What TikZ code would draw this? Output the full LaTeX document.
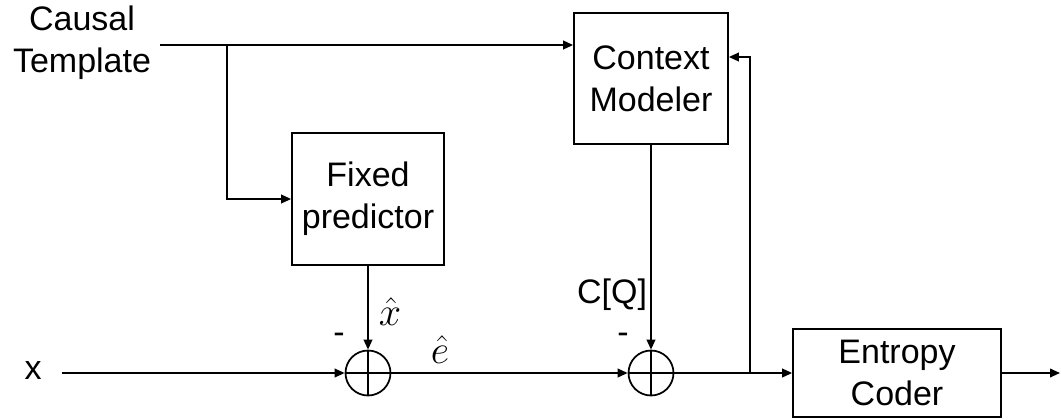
\documentclass[tikz,border=0pt]{standalone}
\usepackage{fontspec}
\setmainfont{Liberation Sans}
\usetikzlibrary{arrows.meta}
\tikzset{
  blk/.style={draw,line width=1.3pt,align=center,inner sep=0pt,font=\fontsize{25.5}{31.5}\selectfont},
  lbl/.style={font=\fontsize{25.5}{31.5}\selectfont,inner sep=0pt},
  mlbl/.style={font=\fontsize{20}{20}\selectfont,inner sep=0pt,scale=1.45},
  sumnode/.style={circle,draw,line width=1.3pt,minimum size=33.75pt,inner sep=0pt,
    path picture={\draw[line width=1.3pt] (path picture bounding box.north)--(path picture bounding box.south)
      (path picture bounding box.west)--(path picture bounding box.east);}}
}
\begin{document}
\begin{tikzpicture}[x=0.75pt,y=-0.75pt,>={Triangle[length=7.5pt,width=6.5pt]},line width=1.3pt]
\useasboundingbox (0,0) rectangle (1061,419);
% blocks
\node[blk,minimum width=114pt,minimum height=99pt](fp) at (368,199){Fixed\\predictor};
\node[blk,minimum width=115.5pt,minimum height=98pt](cm) at (651,78.5){Context\\Modeler};
\node[blk,minimum width=156pt,minimum height=66pt](ec) at (897,373){Entropy\\Coder};
\node[sumnode](s1) at (368,373){};
\node[sumnode](s2) at (651,373){};
% inputs
\node[lbl,align=center](ct) at (82,43){Causal\\Template};
\node[lbl](x) at (33,371){x};
\coordinate (ctend) at (160,45);
\coordinate (br) at (227,45);
\coordinate (xin) at (62,373);
\coordinate (fb) at (750,373);
\coordinate (fbin) at (750,57);
\coordinate (out) at (1060,373);
% connectors
\draw[->] (ctend) -- (cm.west |- ctend);
\draw[->] (br) |- (fp.west);
\draw[->] (xin) -- (s1.west);
\draw[->] (fp.south) -- (s1.north);
\draw[->] (s1.east) -- (s2.west);
\draw[->] (cm.south) -- (s2.north);
\draw[->] (s2.east) -- (ec.west);
\draw[->] (fb) -- (fbin) -- (cm.east |- fbin);
\draw[->] (ec.east) -- (out);
% labels
\node[mlbl](xh) at (390,312){$\hat{x}$};
\node[mlbl](eh) at (440,350){$\hat{e}$};
\node[lbl](cq) at (612,295){C[Q]};
\node[lbl](m1) at (339,338){-};
\node[lbl](m2) at (623,338){-};
\end{tikzpicture}
\end{document}
